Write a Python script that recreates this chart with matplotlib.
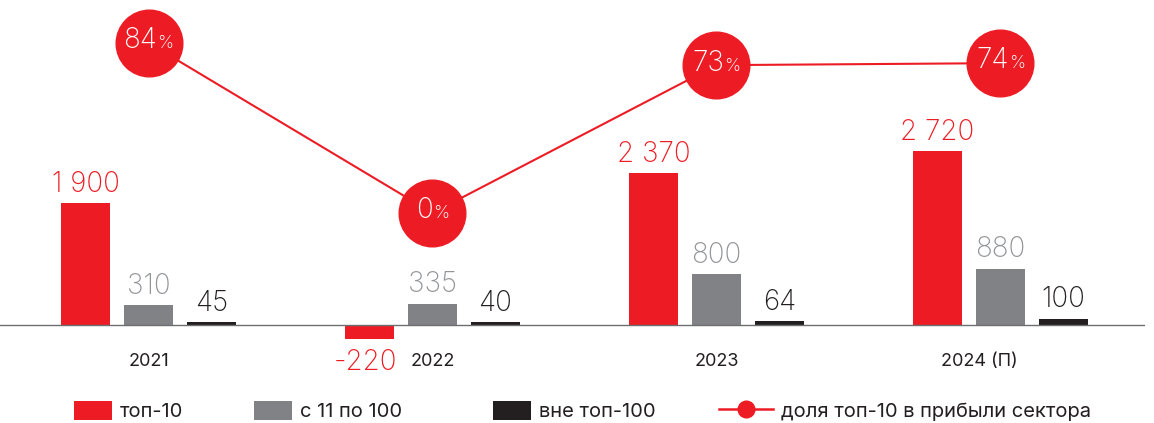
import matplotlib
matplotlib.use("Agg")
import matplotlib.pyplot as plt
import numpy as np
from matplotlib.patches import Patch
from matplotlib.lines import Line2D
from matplotlib.offsetbox import TextArea, HPacker, AnnotationBbox

plt.rcParams["font.family"] = ["Inter", "DejaVu Sans"]

# Profit by bank group, bn rub
years = ["2021", "2022", "2023", "2024 (П)"]
top10 = [1900, -220, 2370, 2720]
rank_11_100 = [310, 335, 800, 880]
outside_100 = [45, 40, 64, 100]
# Share of top-10 in sector profit, %
share_top10 = [84, 0, 73, 74]

series_names = ["топ-10", "с 11 по 100", "вне топ-100", "доля топ-10 в прибыли сектора"]

RED = "#ED1C24"
GRAY = "#808285"
GRAY_TXT = "#939598"
BLACK = "#231F20"
WEIGHT = "light"


def fmt(v):
    return f"{v:,}".replace(",", " ")


W, H = 1154, 423
fig = plt.figure(figsize=(W / 100, H / 100), dpi=100)
ax = fig.add_axes([0, 0, 1145 / W, 1])
ax.set_xlim(-0.523, 3.509)
ax.set_ylim(-1529, 5070)
ax.axis("off")

x = np.arange(len(years))
step = 0.2218
width = 0.1725

groups = [(top10, RED, RED, -step), (rank_11_100, GRAY, GRAY_TXT, 0.0),
          (outside_100, BLACK, BLACK, step)]
for vals, col, tcol, off in groups:
    bars = ax.bar(x + off, vals, width=width, color=col, zorder=2)
    for b, v in zip(bars, vals):
        cx = b.get_x() + b.get_width() / 2
        if v >= 0:
            ax.annotate(fmt(v), (cx, v), xytext=(0, 8), textcoords="offset points",
                        ha="center", va="baseline", fontsize=20, color=tcol,
                        fontweight=WEIGHT)
        else:
            ax.annotate(fmt(v), (cx, v), xytext=(-3, -7), textcoords="offset points",
                        ha="center", va="top", fontsize=20, color=tcol,
                        fontweight=WEIGHT)

ax.axhline(0, color="#6d6e71", lw=1.0, zorder=3)

label_shift = [0, 0, 0, -0.075]
for xi, lab, sh in zip(x, years, label_shift):
    ax.text(xi + sh, -577, lab, ha="center", va="center", fontsize=13, color=BLACK)

# Share line on a secondary scale
ax2 = ax.twinx()
ax2.set_ylim(-103.8, 105.2)
ax2.axis("off")
ax2.plot(x, share_top10, color=RED, lw=1.5, zorder=3)
ax2.plot(x, share_top10, linestyle="none", marker="o", markersize=48,
         markerfacecolor=RED, markeredgecolor=RED, zorder=4)
for xi, v in zip(x, share_top10):
    num = TextArea(str(v), textprops=dict(fontsize=20, color="white", fontweight=WEIGHT))
    pct = TextArea("%", textprops=dict(fontsize=13, color="white", fontweight=WEIGHT))
    pack = HPacker(children=[num, pct], align="baseline", pad=0, sep=0)
    ab = AnnotationBbox(pack, (xi, v), xycoords="data", frameon=False,
                        box_alignment=(0.5, 0.42), zorder=5)
    ax2.add_artist(ab)

# Legend entries
fs = 14.5
px = fs * 100 / 72
handles = [
    Patch(facecolor=RED, edgecolor="none"),
    Patch(facecolor=GRAY, edgecolor="none"),
    Patch(facecolor=BLACK, edgecolor="none"),
    Line2D([], [], color=RED, lw=1.8, marker="o", markersize=12,
           markerfacecolor=RED, markeredgecolor=RED),
]
lefts = [74, 254, 493, 719]
hlens = [38, 38, 38, 54]
for h, name, left, hl in zip(handles, series_names, lefts, hlens):
    fig.legend(handles=[h], labels=[name], loc="center left",
               bbox_to_anchor=(left / W, 1 - 411 / H), frameon=False,
               fontsize=fs, handlelength=hl / px, handleheight=21 / px,
               handletextpad=8 / px, borderpad=0, borderaxespad=0,
               labelcolor=BLACK)

fig.savefig("out.png", dpi=100)
